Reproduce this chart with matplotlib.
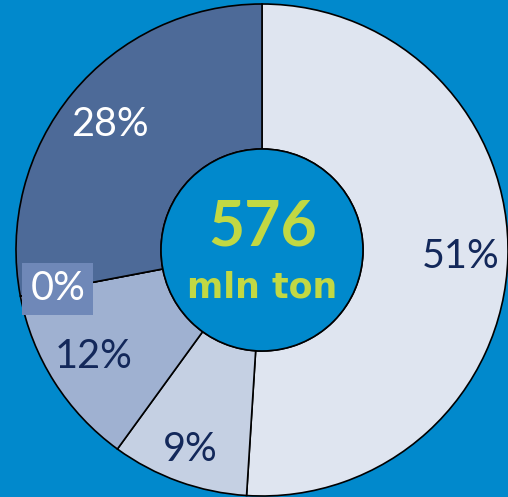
import matplotlib.pyplot as plt
import numpy as np

# slices clockwise from 12 o'clock
shares = [51, 9, 12, 0, 28]
labels = ['51%', '9%', '12%', '0%', '28%']
colors = ['#DFE5F0', '#C5D0E3', '#9FB1D1', '#7D95C0', '#4D6A98']
label_colors = ['#13285A', '#13285A', '#13285A', 'white', 'white']
label_radius = [0.81, 0.86, 0.81, 0.845, 0.80]
total_text = '576'
unit_text = 'mln ton'

bg = '#0189CC'
fig = plt.figure(figsize=(5.08, 4.97), dpi=100, facecolor=bg)
ax = fig.add_axes([0, 0, 1, 1])
ax.set_facecolor(bg)

cx, cy, R, r_in = 262, 247, 246, 101
wedges, _ = ax.pie(shares, colors=colors, startangle=90, counterclock=False,
                   center=(cx, cy), radius=R, frame=True,
                   wedgeprops=dict(width=R - r_in, edgecolor='black', linewidth=1.2))
ax.set_xlim(0, 508)
ax.set_ylim(0, 497)
ax.set_aspect('equal')
ax.axis('off')

hole = plt.Circle((cx, cy), r_in, facecolor=bg, edgecolor='black', linewidth=1.2, zorder=3)
ax.add_patch(hole)

for w, lab, c, lr in zip(wedges, labels, label_colors, label_radius):
    ang = np.deg2rad((w.theta1 + w.theta2) / 2)
    x = cx + R * lr * np.cos(ang)
    y = cy + R * lr * np.sin(ang)
    kw = {}
    if lab == '0%':
        kw['bbox'] = dict(boxstyle='square,pad=0.2', facecolor='#6F88B8', edgecolor='none')
    ax.text(x, y, lab, ha='center', va='center', fontsize=28.5, color=c,
            family='Lato', zorder=5, **kw)

ax.text(cx + 1, 497 - 246, total_text, ha='center', va='baseline', fontsize=45,
        fontweight='bold', color='#C2D843', family='Lato', zorder=5)
ax.text(cx, 497 - 297, unit_text, ha='center', va='baseline', fontsize=25,
        fontweight='bold', color='#C2D843', family='DejaVu Sans', zorder=5)

fig.savefig('out.png', dpi=100, facecolor=bg)
